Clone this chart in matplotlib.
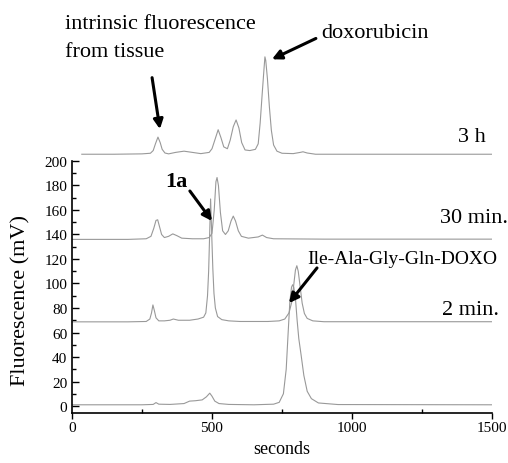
import matplotlib
matplotlib.use('Agg')
import matplotlib.pyplot as plt
import numpy as np

plt.rcParams['font.family'] = ['Liberation Serif', 'DejaVu Serif']

# chromatogram traces (seconds, mV)
t_3h = [35, 150, 250, 280, 290, 298, 307, 315, 322, 332, 345, 370, 400, 430, 460, 490, 500, 510,
        522, 532, 542, 555, 565, 576, 586, 596, 606, 618, 635, 655, 665, 672, 679, 686, 689, 692,
        698, 705, 712, 720, 732, 750, 790, 815, 825, 840, 870, 1100, 1500]
f_3h = [205.5, 205.5, 205.8, 206.3, 208.5, 214, 219.5, 215, 209.5, 206.5, 205.8, 207, 208, 207, 206,
        207, 210, 217, 225.5, 219, 211.5, 210, 217, 228, 233.5, 227, 215, 209, 208.5, 209.5, 214,
        231, 254, 276, 285, 282, 267, 244, 225, 213, 208, 206.3, 206, 207, 207.5, 206.5, 205.5,
        205.5, 205.5]

t_30 = [0, 200, 265, 282, 292, 300, 306, 313, 320, 330, 345, 360, 375, 392, 430, 470, 490, 500,
        508, 514, 518, 523, 530, 538, 548, 558, 568, 576, 584, 594, 605, 630, 665, 680, 695, 720,
        900, 1500]
f_30 = [136, 136, 136.5, 138.5, 145, 151.5, 152, 146, 140, 137.5, 138.5, 140.5, 139, 137, 136.5,
        136.5, 137.5, 141, 160, 183, 186.5, 180, 158, 143, 140, 143, 151, 155, 151, 143, 138.5,
        137, 138, 139.5, 137.5, 136.5, 136.2, 136.2]

t_2 = [0, 200, 265, 278, 284, 289, 294, 300, 310, 330, 350, 362, 380, 420, 450, 470, 478, 484,
       488, 491, 495, 499, 503, 507, 512, 520, 535, 560, 600, 700, 740, 760, 775, 785, 792, 798,
       803, 808, 815, 822, 830, 840, 860, 900, 1500]
f_2 = [68.7, 68.7, 69, 71, 76, 82.5, 78, 72, 69.5, 69.5, 70, 71, 70, 70, 71, 72.5, 76, 90, 110,
       135, 169, 140, 112, 92, 80, 73, 70.5, 69.5, 69, 69, 69.5, 71, 76, 85, 99, 111, 114.5, 110,
       97, 84, 75.5, 71.5, 69.5, 68.8, 68.8]

t_0 = [0, 250, 290, 300, 310, 350, 400, 420, 440, 465, 480, 492, 500, 510, 525, 560, 650, 720,
       740, 755, 765, 772, 778, 784, 788, 792, 798, 804, 810, 818, 828, 840, 855, 880, 950, 1500]
f_0 = [1, 1, 1.3, 2.8, 1.5, 1.3, 2, 4, 4.3, 5, 7.5, 10.5, 8, 4, 2, 1.3, 1, 1.5, 3, 10, 30, 60,
       85, 97, 99, 97, 88, 70, 55, 42, 25, 12, 6, 2.5, 1.2, 1]

time_labels = ['3 h', '30 min.', '2 min.']

fig = plt.figure(figsize=(5.08, 4.64), dpi=100)
ax = fig.add_axes([72/508, 50/464, 420/508, 414/464])

for t, f in [(t_3h, f_3h), (t_30, f_30), (t_2, f_2), (t_0, f_0)]:
    ax.plot(t, f, color='#999999', lw=0.8)

ax.set_xlim(0, 1500)
ax.set_ylim(-5.7, 332.2)
ax.spines['top'].set_visible(False)
ax.spines['right'].set_visible(False)
ax.spines['left'].set_bounds(-5.7, 200)
ax.spines['left'].set_linewidth(1.2)
ax.spines['bottom'].set_linewidth(1.2)

ax.set_xticks([0, 500, 1000, 1500])
ax.set_xticks([250, 750, 1250], minor=True)
ax.set_yticks(np.arange(0, 201, 20))
ax.set_yticks(np.arange(10, 200, 20), minor=True)
ax.tick_params(axis='x', which='major', direction='out', length=4, width=1, labelsize=11, pad=2)
ax.tick_params(axis='x', which='minor', direction='in', length=3, width=1)
ax.tick_params(axis='y', which='major', direction='in', length=5, width=1, labelsize=11)
ax.tick_params(axis='y', which='minor', direction='in', length=3, width=1)

ax.set_xlabel('seconds', fontsize=13, labelpad=4)
ax.set_ylabel('Fluorescence (mV)', fontsize=16)
ax.yaxis.set_label_coords(-0.1, 114/414)

# trace labels
ax.text(1479, 219.6, time_labels[0], fontsize=16, ha='right', va='center')
ax.text(1557, 154, time_labels[1], fontsize=16, ha='right', va='center', clip_on=False)
ax.text(1525, 79, time_labels[2], fontsize=16, ha='right', va='center')

# peak annotations
arw = dict(arrowstyle='-|>', color='black', lw=2.2, mutation_scale=14, shrinkA=0, shrinkB=0)
ax.text(-25, 312, 'intrinsic fluorescence', fontsize=16, ha='left', va='center', clip_on=False)
ax.text(-25, 289, 'from tissue', fontsize=16, ha='left', va='center', clip_on=False)
ax.annotate('', xy=(314, 226), xytext=(286, 268), arrowprops=arw)

ax.text(889, 305, 'doxorubicin', fontsize=16, ha='left', va='center')
ax.annotate('', xy=(714, 283), xytext=(871, 300), arrowprops=arw)

ax.text(332, 183.7, '1a', fontsize=16, fontweight='bold', ha='left', va='center')
ax.annotate('', xy=(500, 151), xytext=(421, 175.5), arrowprops=arw)

ax.text(839, 120, 'Ile-Ala-Gly-Gln-DOXO', fontsize=14, ha='left', va='center')
ax.annotate('', xy=(775, 84), xytext=(875, 112.7), arrowprops=arw)

fig.savefig('out.png', dpi=100)
